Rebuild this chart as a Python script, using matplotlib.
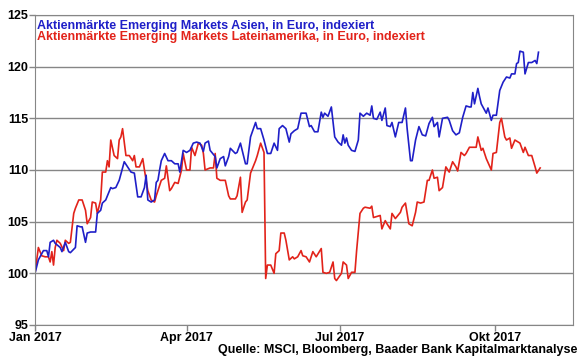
import pandas as pd
import matplotlib
matplotlib.use("Agg")
import matplotlib.pyplot as plt

# days since 2017-01-01 and index values (start = 100)
asia_days = [0, 2, 3, 5, 7, 8, 9, 11, 12, 15, 16, 18, 20, 21, 24, 25, 27, 28, 30, 31,
             33, 36, 37, 39, 40, 42, 45, 46, 48, 50, 52, 53, 55, 57, 59, 61, 63, 65, 66, 67,
             69, 71, 72, 73, 74, 75, 77, 79, 81, 83, 85, 86, 88, 90, 92, 94, 96, 98, 100, 101,
             103, 104, 107, 108, 110, 112, 113, 115, 116, 119, 120, 122, 125, 126, 128, 131, 132, 134, 136, 138,
             140, 142, 144, 145, 147, 149, 151, 152, 154, 156, 158, 161, 163, 164, 166, 168, 170, 171, 172, 174,
             176, 178, 180, 182, 183, 184, 185, 186, 188, 190, 192, 193, 195, 197, 199, 200, 201, 203, 205, 206,
             208, 209, 211, 212, 214, 216, 218, 220, 221, 223, 224, 226, 228, 230, 232, 234, 236, 237, 239, 240,
             242, 245, 246, 248, 250, 252, 254, 256, 258, 259, 260, 261, 263, 264, 265, 267, 268, 269, 271, 272,
             274, 276, 278, 280, 282, 283, 285, 286, 287, 288, 290, 291, 293, 295, 297, 298, 299]
asia_vals = [100.0, 101.3, 101.6, 102.2, 102.2, 101.6, 103.0, 103.2, 102.9, 102.5, 102.1, 103.0, 102.1, 102.0, 102.5, 104.6, 104.5, 104.5, 103.0, 103.9,
             104.0, 104.0, 105.8, 106.1, 106.8, 107.1, 108.3, 108.2, 108.3, 109.0, 110.2, 110.8, 110.3, 109.8, 109.7, 107.4, 107.4, 108.3, 109.5, 107.1,
             106.9, 107.1, 108.8, 109.0, 110.0, 110.9, 111.6, 110.9, 110.9, 110.6, 110.6, 109.8, 111.9, 111.7, 111.9, 112.6, 112.7, 112.6, 111.8, 112.6,
             112.8, 111.9, 111.3, 110.2, 111.1, 111.3, 110.4, 111.3, 112.1, 111.6, 111.7, 112.6, 110.6, 110.6, 113.2, 114.6, 114.0, 114.0, 112.9, 111.6,
             111.6, 112.6, 111.9, 114.0, 114.3, 114.0, 112.7, 113.5, 113.8, 114.0, 115.5, 115.5, 114.2, 114.3, 113.7, 113.7, 115.6, 115.1, 115.5, 115.2,
             116.1, 113.2, 112.7, 112.4, 113.4, 112.6, 113.1, 112.4, 111.9, 111.8, 112.9, 115.5, 115.2, 115.5, 115.3, 116.2, 115.0, 114.9, 115.6, 114.8,
             116.0, 114.3, 114.2, 114.6, 113.2, 114.6, 114.6, 116.0, 114.0, 110.9, 110.9, 112.9, 114.2, 113.4, 113.3, 114.5, 115.1, 114.2, 114.6, 113.2,
             115.0, 115.1, 114.8, 113.8, 113.4, 113.6, 115.1, 116.2, 116.1, 116.1, 117.5, 116.4, 117.9, 117.1, 116.4, 115.8, 115.5, 116.0, 114.8, 115.3,
             115.3, 117.7, 118.5, 119.0, 118.9, 119.3, 119.3, 120.3, 120.4, 121.5, 121.4, 119.3, 120.4, 120.4, 120.6, 120.3, 121.4]

latam_days = [0, 2, 4, 6, 8, 9, 10, 11, 12, 13, 15, 17, 18, 20, 21, 23, 24, 26, 28, 30,
              31, 33, 34, 36, 37, 39, 40, 42, 43, 44, 45, 47, 49, 50, 51, 52, 54, 56, 58, 59,
              60, 62, 64, 65, 67, 69, 71, 72, 73, 75, 77, 78, 80, 81, 83, 85, 87, 88, 90, 92,
              93, 95, 97, 99, 100, 101, 104, 106, 107, 108, 110, 113, 115, 116, 119, 120, 122, 123, 125, 126,
              128, 131, 132, 134, 136, 137, 138, 140, 142, 143, 145, 146, 148, 149, 151, 153, 154, 156, 158, 159,
              161, 163, 165, 167, 170, 171, 173, 175, 177, 178, 179, 182, 183, 185, 186, 188, 190, 191, 193, 195,
              196, 199, 200, 201, 203, 205, 206, 208, 209, 211, 212, 214, 217, 218, 220, 222, 224, 226, 227, 229,
              231, 233, 234, 236, 237, 239, 240, 242, 244, 246, 248, 250, 251, 253, 255, 256, 258, 260, 262, 263,
              265, 266, 268, 271, 272, 274, 276, 277, 279, 280, 282, 283, 285, 287, 288, 290, 291, 293, 295, 297,
              298, 300]
latam_vals = [100.0, 102.5, 101.7, 101.6, 101.6, 101.1, 102.1, 100.8, 102.5, 103.2, 102.9, 102.2, 103.2, 102.9, 103.0, 105.8, 106.3, 107.1, 107.1, 106.1,
              104.8, 105.4, 106.9, 106.8, 105.8, 107.1, 109.8, 109.8, 110.9, 110.3, 112.9, 111.4, 111.1, 112.9, 113.2, 114.0, 111.4, 111.4, 110.9, 111.4,
              110.3, 110.3, 111.1, 110.0, 108.0, 107.1, 106.9, 107.5, 108.0, 109.0, 109.2, 110.4, 108.0, 108.2, 108.8, 108.7, 110.0, 111.6, 110.0, 110.0,
              112.2, 111.4, 112.6, 112.4, 111.6, 110.0, 110.2, 110.2, 111.6, 109.2, 109.0, 109.0, 107.5, 107.2, 107.2, 107.5, 109.3, 105.9, 106.9, 107.1,
              109.7, 110.9, 111.4, 112.6, 111.7, 99.5, 100.8, 100.8, 100.0, 101.9, 102.2, 103.9, 103.9, 103.2, 101.3, 101.6, 101.4, 101.6, 102.2, 101.7,
              101.6, 101.1, 102.1, 101.6, 102.4, 100.1, 100.0, 100.1, 101.1, 99.5, 99.3, 100.0, 101.1, 100.8, 99.5, 100.1, 100.1, 102.2, 105.8, 106.3,
              106.4, 106.3, 106.5, 105.4, 105.5, 105.6, 104.3, 105.1, 104.8, 104.3, 105.8, 105.3, 105.9, 106.4, 106.8, 104.8, 104.6, 105.9, 106.9, 106.8,
              106.9, 109.0, 109.0, 110.0, 109.2, 109.3, 108.0, 108.3, 110.3, 109.8, 110.8, 110.3, 109.9, 111.7, 111.4, 111.6, 112.2, 112.2, 112.2, 113.2,
              111.9, 112.1, 111.1, 110.0, 111.6, 111.7, 114.6, 115.0, 113.2, 112.9, 113.1, 112.1, 112.9, 112.7, 112.6, 111.7, 112.2, 111.4, 111.4, 110.3,
              109.7, 110.2]

asia_label = "Aktienmärkte Emerging Markets Asien, in Euro, indexiert"
latam_label = "Aktienmärkte Emerging Markets Lateinamerika, in Euro, indexiert"
source_text = "Quelle: MSCI, Bloomberg, Baader Bank Kapitalmarktanalyse"
y_ticks = [95, 100, 105, 110, 115, 120, 125]
x_tick_dates = ["2017-01-01", "2017-04-01", "2017-07-01", "2017-10-01"]
x_tick_labels = ["Jan 2017", "Apr 2017", "Jul 2017", "Okt 2017"]

plt.rcParams['font.family'] = ['Liberation Sans', 'DejaVu Sans']

start = pd.Timestamp("2017-01-01")
asia_dates = start + pd.to_timedelta(asia_days, unit="D")
latam_dates = start + pd.to_timedelta(latam_days, unit="D")

blue = "#1f1fc8"
red = "#e2231a"
grey = "#868686"

fig = plt.figure(figsize=(5.8, 3.59), dpi=100)
ax = fig.add_axes([35 / 580, 34 / 359, 538 / 580, 310 / 359])

ax.plot(latam_dates, latam_vals, color=red, lw=1.2)
ax.plot(asia_dates, asia_vals, color=blue, lw=1.2)

ax.set_ylim(95, 125)
ax.set_xlim(start, start + pd.Timedelta(days=319.5))
ax.set_yticks(y_ticks)
ax.set_yticklabels([str(t) for t in y_ticks], fontweight="bold", fontsize=9)
ax.set_xticks(pd.to_datetime(x_tick_dates))
ax.set_xticklabels(x_tick_labels, fontweight="bold", fontsize=9)
ax.yaxis.grid(True, color=grey, lw=1)
ax.set_axisbelow(True)
for s in ax.spines.values():
    s.set_color(grey)
ax.tick_params(axis="both", colors=grey, length=4, width=1, labelcolor="black", pad=1)

ax.text(0.004, 0.985, asia_label, transform=ax.transAxes, color=blue,
        fontsize=9, fontweight="bold", va="top", ha="left")
ax.text(0.004, 0.947, latam_label, transform=ax.transAxes, color=red,
        fontsize=9, fontweight="bold", va="top", ha="left")

fig.text(577 / 580, 3 / 359, source_text, fontsize=9, fontweight="bold",
         ha="right", va="bottom")

fig.savefig("out.png", dpi=100)
